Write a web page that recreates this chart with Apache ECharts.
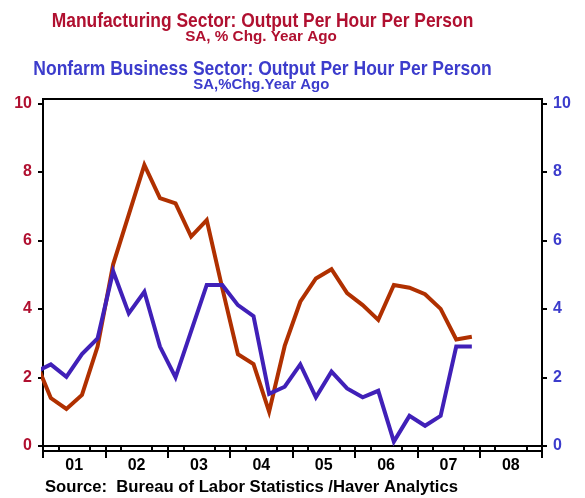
<!DOCTYPE html>
<html>
<head>
<meta charset="utf-8">
<script src="https://cdn.jsdelivr.net/npm/echarts@6/dist/echarts.min.js"></script>
<style>
html,body{margin:0;padding:0;background:#fff;}
#c{width:585px;height:498px;}
</style>
</head>
<body>
<div id="c"></div>
<script>
// Quarterly periods; first point 2000Q4 lies left of the plot and is clipped at the edge
const quarters = ['2000Q4',
  '2001Q1','2001Q2','2001Q3','2001Q4',
  '2002Q1','2002Q2','2002Q3','2002Q4',
  '2003Q1','2003Q2','2003Q3','2003Q4',
  '2004Q1','2004Q2','2004Q3','2004Q4',
  '2005Q1','2005Q2','2005Q3','2005Q4',
  '2006Q1','2006Q2','2006Q3','2006Q4',
  '2007Q1','2007Q2','2007Q3','2007Q4'];
const manufacturing = [2.5,
  1.4, 1.08, 1.49, 2.9,
  5.3, 6.75, 8.2, 7.23,
  7.08, 6.11, 6.59, 4.6,
  2.68, 2.39, 1.0, 2.92,
  4.21, 4.89, 5.16, 4.46,
  4.11, 3.68, 4.7, 4.62,
  4.43, 4.0, 3.11, 3.19];
const nonfarm = [2.16,
  2.38, 2.02, 2.68, 3.14,
  5.1, 3.87, 4.5, 2.9,
  2.0, 3.35, 4.7, 4.7,
  4.11, 3.79, 1.52, 1.73,
  2.38, 1.42, 2.17, 1.68,
  1.42, 1.61, 0.13, 0.88,
  0.59, 0.88, 2.9, 2.9];
const yTicks = [0, 2, 4, 6, 8, 10];
const yearLabels = ['01','02','03','04','05','06','07','08'];
const yearStarts = [2001,2002,2003,2004,2005,2006,2007,2008,2009];
const titleLines = [
  'Manufacturing Sector: Output Per Hour Per Person',
  'SA, % Chg. Year Ago',
  'Nonfarm Business Sector: Output Per Hour Per Person',
  'SA,%Chg.Year Ago'
];
const sourceText = 'Source:  Bureau of Labor Statistics /Haver Analytics';
</script>
<script>
function qx(q){ const y = parseInt(q.slice(0,4)); const n = parseInt(q.slice(5)); return y + (n - 0.5)/4; }
const chart = echarts.init(document.getElementById('c'), null, {renderer:'canvas'});
const mData = manufacturing.map((v,i)=>[qx(quarters[i]), v]);
const nData = nonfarm.map((v,i)=>[qx(quarters[i]), v]);
const yearMids = yearLabels.map((l,i)=>yearStarts[i] + 0.5);
const quarterTicks = [];
yearStarts.slice(0,-1).forEach(y=>{ quarterTicks.push(y+0.25); quarterTicks.push(y+0.75); });
const labelMap = {};
yearMids.forEach((m,i)=>{ labelMap[m.toFixed(2)] = yearLabels[i]; });

const RED = '#b01030', BLUE = '#3c3ccc';
const FAM = '"Liberation Sans", Arial, Helvetica, sans-serif';
const yMin = -0.146, yMax = 10.125;
const boldNum = {fontFamily:FAM, fontWeight:'bold', fontSize:16};

const mctx = document.createElement('canvas').getContext('2d');
function fitText(text, font, targetW){ mctx.font = font; const w = mctx.measureText(text).width; return targetW / w; }

// [text, font size, colour, center x / left x, cap-center y, target width, align]
const textSpecs = [
  [titleLines[0], 21, RED, 262.5, 21, 421.6, 'center'],
  [titleLines[1], 15, RED, 261, 37, 151.7, 'center'],
  [titleLines[2], 21, BLUE, 262.5, 69, 458.4, 'center'],
  [titleLines[3], 15, BLUE, 261.3, 84.5, 136, 'center'],
  [sourceText, 17, '#000', 45, 487, 413, 'left']
];
const graphics = textSpecs.map(s=>{
  const font = 'bold ' + s[1] + 'px ' + FAM;
  const sx = fitText(s[0], font, s[5]);
  return {type:'text', x:s[3], y:s[4], scaleX:sx, scaleY:1, z:10,
    style:{text:s[0], font:font, fill:s[2], textAlign:s[6], textVerticalAlign:'middle'}};
});

chart.setOption({
  animation:false,
  backgroundColor:'#fff',
  graphic:graphics,
  grid:{left:43, top:99, width:499, height:352, show:true, borderColor:'#000', borderWidth:2, backgroundColor:'transparent'},
  xAxis:[
    {type:'value', min:2001, max:2009, position:'bottom',
     axisLine:{show:true, lineStyle:{color:'#000', width:2}},
     axisTick:{show:true, customValues:yearStarts, length:12, lineStyle:{color:'#000', width:2}},
     axisLabel:{show:true, customValues:yearMids, margin:7, color:'#000', ...boldNum,
       formatter:v=>labelMap[v.toFixed(2)] || ''},
     splitLine:{show:false}},
    {type:'value', min:2001, max:2009, position:'bottom',
     axisLine:{show:false},
     axisTick:{show:true, customValues:quarterTicks, length:6, lineStyle:{color:'#000', width:2}},
     axisLabel:{show:false}, splitLine:{show:false}}
  ],
  yAxis:[
    {type:'value', min:yMin, max:yMax, position:'left',
     axisLine:{show:true, lineStyle:{color:'#000', width:2}},
     axisTick:{show:true, customValues:yTicks, length:5, lineStyle:{color:'#000', width:2}},
     axisLabel:{customValues:yTicks, margin:11, color:RED, ...boldNum},
     splitLine:{show:false}},
    {type:'value', min:yMin, max:yMax, position:'right',
     axisLine:{show:true, lineStyle:{color:'#000', width:2}},
     axisTick:{show:true, customValues:yTicks, length:5, lineStyle:{color:'#000', width:2}},
     axisLabel:{customValues:yTicks, margin:11, color:BLUE, ...boldNum},
     splitLine:{show:false}}
  ],
  series:[
    {name:'Manufacturing', type:'line', xAxisIndex:0, yAxisIndex:0, data:mData, showSymbol:false, symbol:'none',
     clip:true, lineStyle:{color:'#b03000', width:4, join:'miter'}, z:2},
    {name:'Nonfarm', type:'line', xAxisIndex:0, yAxisIndex:1, data:nData, showSymbol:false, symbol:'none',
     clip:true, lineStyle:{color:'#4020b8', width:4, join:'miter'}, z:3}
  ]
});
</script>
</body>
</html>
